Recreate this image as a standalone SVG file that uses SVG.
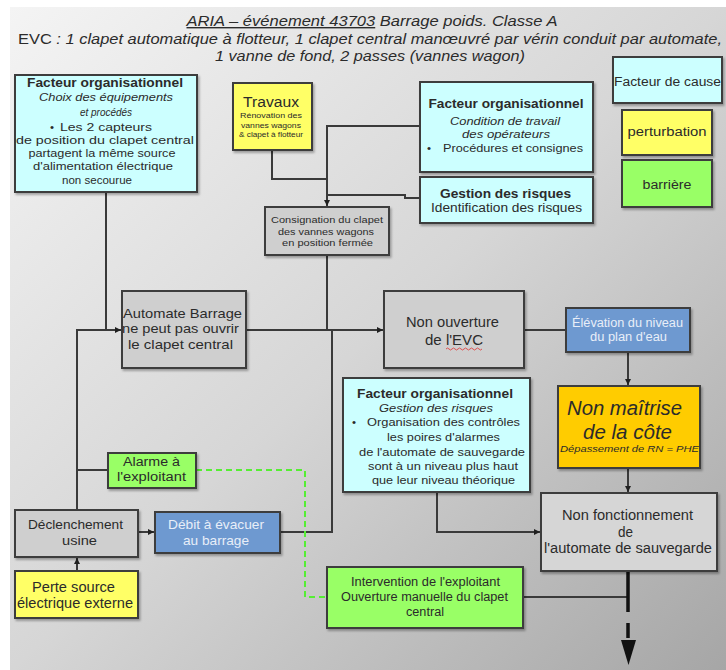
<svg xmlns="http://www.w3.org/2000/svg" width="726" height="670" viewBox="0 0 726 670">
  <defs>
    <linearGradient id="bg" x1="0" y1="0" x2="1" y2="1">
      <stop offset="0" stop-color="#f4f4f4"/>
      <stop offset="0.5" stop-color="#d6d6d6"/>
      <stop offset="1" stop-color="#a6a6a6"/>
    </linearGradient>
    <filter id="sh" x="-10%" y="-10%" width="120%" height="130%">
      <feDropShadow dx="1.5" dy="2" stdDeviation="1" flood-color="#000" flood-opacity="0.3"/>
    </filter>
    <marker id="arr" viewBox="0 0 6 6" refX="6" refY="3" markerWidth="6" markerHeight="6" orient="auto" markerUnits="userSpaceOnUse">
      <path d="M0,0 L6,3 L0,6 Z" fill="#202020"/>
    </marker>
  </defs>
  <style>
    text { font-family: "Liberation Sans", Arial, sans-serif; fill: #2b2b2b; }
    .box { stroke: #3c3c3c; stroke-width: 2; filter: url(#sh); }
    .cause { fill: #ccffff; }
    .pert { fill: #ffff66; }
    .barr { fill: #99ff66; }
    .ev { fill: #cfcfcf; }
    .blue { fill: #6e99d0; }
    .gold { fill: #ffcc00; }
    .c { text-anchor: middle; }
    .b { font-weight: bold; }
    .i { font-style: italic; }
    .lt { fill: #e8eef8; }
    .ln { fill: none; stroke: #3a3a3a; stroke-width: 2; }
    .dash { fill: none; stroke: #55ee33; stroke-width: 2; stroke-dasharray: 6 4; }
  </style>

  <!-- backdrop -->
  <rect x="0" y="0" width="726" height="670" fill="#ffffff"/>
  <rect x="10" y="7" width="716" height="663" fill="url(#bg)"/>

  <!-- heading -->
  <g id="title" class="i">
    <text x="372" y="26" font-size="14" class="c" textLength="371" lengthAdjust="spacingAndGlyphs"><tspan text-decoration="underline">ARIA – événement 43703</tspan> Barrage poids. Classe A</text>
    <text x="370" y="44" font-size="14" class="c" textLength="704" lengthAdjust="spacingAndGlyphs"><tspan font-style="normal">EVC</tspan> : 1 clapet automatique à flotteur, 1 clapet central manœuvré par vérin conduit par automate,</text>
    <text x="370" y="61" font-size="14" class="c" textLength="310" lengthAdjust="spacingAndGlyphs">1 vanne de fond, 2 passes (vannes wagon)</text>
  </g>

  <!-- connectors -->
  <g id="connectors">
    <path class="ln" d="M106,192 V330"/>
    <path class="ln" d="M77,510 V330 H121" marker-end="url(#arr)"/>
    <path class="ln" d="M77,470 H108"/>
    <path class="ln" d="M246,330 H383" marker-end="url(#arr)"/>
    <path class="ln" d="M327,255 V330"/>
    <path class="ln" d="M280,532 H332 V330"/>
    <path class="ln" d="M272,150 V179 H327"/>
    <path class="ln" d="M420,126 H327 V206" marker-end="url(#arr)"/>
    <path class="ln" d="M420,198 H405 V195 H327"/>
    <path class="ln" d="M524,330 H566"/>
    <path class="ln" d="M628,352 V385" marker-end="url(#arr)"/>
    <path class="ln" d="M628,468 V492" marker-end="url(#arr)"/>
    <path class="ln" d="M437,492 V532 H540" marker-end="url(#arr)"/>
    <path class="ln" d="M138,532 H154" marker-end="url(#arr)"/>
    <path class="ln" d="M77,571 V558" marker-end="url(#arr)"/>
    <path class="ln" d="M523,597 H628"/>
    <path class="dash" d="M196,470 H305 V597 H327"/>
    <path d="M628,571 V612 M628,623 V638" fill="none" stroke="#111" stroke-width="3.5"/>
    <polygon points="621,640 636,640 628.5,665" fill="#111"/>
  </g>

  <!-- legend -->
  <g id="legend-cause">
    <rect class="box cause" x="613" y="57" width="109" height="46"/>
    <text x="667.5" y="86" font-size="12" class="c" textLength="107" lengthAdjust="spacingAndGlyphs">Facteur de cause</text>
  </g>
  <g id="legend-perturbation">
    <rect class="box pert" x="622" y="110" width="90" height="45"/>
    <text x="667" y="136" font-size="12" class="c" textLength="79" lengthAdjust="spacingAndGlyphs">perturbation</text>
  </g>
  <g id="legend-barriere">
    <rect class="box barr" x="622" y="160" width="90" height="47"/>
    <text x="667" y="189" font-size="12" class="c" textLength="49" lengthAdjust="spacingAndGlyphs">barrière</text>
  </g>

  <!-- nodes -->
  <g id="facteur-equipements">
    <rect class="box cause" x="15" y="75" width="182" height="117"/>
    <text x="105" y="86.5" font-size="12.5" class="c b" textLength="156" lengthAdjust="spacingAndGlyphs">Facteur organisationnel</text>
    <text x="106" y="101" font-size="11.5" class="c i" textLength="134" lengthAdjust="spacingAndGlyphs">Choix des équipements</text>
    <text x="106" y="116" font-size="11.5" class="c i" textLength="52" lengthAdjust="spacingAndGlyphs">et procédés</text>
    <text x="50" y="131" font-size="11.5">•</text>
    <text x="106" y="131" font-size="11.5" class="c" textLength="92" lengthAdjust="spacingAndGlyphs">Les 2 capteurs</text>
    <text x="105" y="143.5" font-size="11.5" class="c" textLength="178" lengthAdjust="spacingAndGlyphs">de position du clapet central</text>
    <text x="102" y="156.5" font-size="11.5" class="c" textLength="147" lengthAdjust="spacingAndGlyphs">partagent la même source</text>
    <text x="103" y="169.5" font-size="11.5" class="c" textLength="140" lengthAdjust="spacingAndGlyphs">d'alimentation électrique</text>
    <text x="97" y="184" font-size="11.5" class="c" textLength="70" lengthAdjust="spacingAndGlyphs">non secourue</text>
  </g>

  <g id="travaux">
    <rect class="box pert" x="233" y="83" width="79" height="67"/>
    <text x="271" y="107" font-size="14" class="c" textLength="56" lengthAdjust="spacingAndGlyphs">Travaux</text>
    <text x="271" y="118" font-size="7" class="c" textLength="62" lengthAdjust="spacingAndGlyphs">Rénovation des</text>
    <text x="271" y="127.5" font-size="7" class="c" textLength="60" lengthAdjust="spacingAndGlyphs">vannes wagons</text>
    <text x="271" y="137" font-size="7" class="c" textLength="64" lengthAdjust="spacingAndGlyphs">&amp; clapet à flotteur</text>
  </g>

  <g id="facteur-condition">
    <rect class="box cause" x="420" y="82" width="173" height="90"/>
    <text x="506" y="108" font-size="12.5" class="c b" textLength="155" lengthAdjust="spacingAndGlyphs">Facteur organisationnel</text>
    <text x="505" y="125" font-size="11.5" class="c i" textLength="110" lengthAdjust="spacingAndGlyphs">Condition de travail</text>
    <text x="506" y="138" font-size="11.5" class="c i" textLength="88" lengthAdjust="spacingAndGlyphs">des opérateurs</text>
    <text x="427" y="152" font-size="11.5">•</text>
    <text x="513" y="152" font-size="11.5" class="c" textLength="140" lengthAdjust="spacingAndGlyphs">Procédures et consignes</text>
  </g>

  <g id="gestion-risques">
    <rect class="box cause" x="420" y="177" width="173" height="46"/>
    <text x="505.5" y="197.5" font-size="12.5" class="c b" textLength="131" lengthAdjust="spacingAndGlyphs">Gestion des risques</text>
    <text x="506.5" y="211.5" font-size="12.5" class="c" textLength="151" lengthAdjust="spacingAndGlyphs">Identification des risques</text>
  </g>

  <g id="consignation">
    <rect class="box ev" x="265" y="207" width="124" height="48"/>
    <text x="327" y="223" font-size="9" class="c" textLength="112" lengthAdjust="spacingAndGlyphs">Consignation du clapet</text>
    <text x="326" y="235" font-size="9" class="c" textLength="96" lengthAdjust="spacingAndGlyphs">des vannes wagons</text>
    <text x="327.5" y="246" font-size="9" class="c" textLength="91" lengthAdjust="spacingAndGlyphs">en position fermée</text>
  </g>

  <g id="automate-barrage">
    <rect class="box ev" x="122" y="291" width="124" height="77"/>
    <text x="182.5" y="318" font-size="13.5" class="c" textLength="119" lengthAdjust="spacingAndGlyphs">Automate Barrage</text>
    <text x="180.5" y="333" font-size="13.5" class="c" textLength="117" lengthAdjust="spacingAndGlyphs">ne peut pas ouvrir</text>
    <text x="180.5" y="349" font-size="13.5" class="c" textLength="105" lengthAdjust="spacingAndGlyphs">le clapet central</text>
  </g>

  <g id="non-ouverture">
    <rect class="box ev" x="384" y="291" width="140" height="77"/>
    <text x="452.5" y="327" font-size="14" class="c" textLength="93" lengthAdjust="spacingAndGlyphs">Non ouverture</text>
    <text x="454" y="345" font-size="14" class="c" textLength="58" lengthAdjust="spacingAndGlyphs">de l'EVC</text>
    <path d="M446,349 q1.5,-2 3,0 t3,0 t3,0 t3,0 t3,0 t3,0 t3,0 t3,0 t3,0 t3,0 t3,0 t3,0" fill="none" stroke="#e03030" stroke-width="0.8"/>
  </g>

  <g id="elevation">
    <rect class="box blue" x="566" y="308" width="124" height="44"/>
    <text x="627.5" y="327" font-size="12" class="c lt" textLength="111" lengthAdjust="spacingAndGlyphs">Élévation du niveau</text>
    <text x="628.5" y="341" font-size="12" class="c lt" textLength="77" lengthAdjust="spacingAndGlyphs">du plan d'eau</text>
  </g>

  <g id="non-maitrise">
    <rect class="box gold" x="558" y="386" width="142" height="82"/>
    <text x="624.5" y="415" font-size="20" class="c i" fill="#111" textLength="115" lengthAdjust="spacingAndGlyphs">Non maîtrise</text>
    <text x="627.5" y="439" font-size="20" class="c i" textLength="89" lengthAdjust="spacingAndGlyphs">de la côte</text>
    <text x="629.5" y="452" font-size="8.5" class="c i" textLength="139" lengthAdjust="spacingAndGlyphs">Dépassement de RN = PHE</text>
  </g>

  <g id="facteur-gestion">
    <rect class="box cause" x="343" y="378" width="187" height="114"/>
    <text x="435" y="397.5" font-size="12.5" class="c b" textLength="156" lengthAdjust="spacingAndGlyphs">Facteur organisationnel</text>
    <text x="436" y="412" font-size="11.5" class="c i" textLength="114" lengthAdjust="spacingAndGlyphs">Gestion des risques</text>
    <text x="352" y="426" font-size="11.5">•</text>
    <text x="443.5" y="426" font-size="11.5" class="c" textLength="153" lengthAdjust="spacingAndGlyphs">Organisation des contrôles</text>
    <text x="443.5" y="441" font-size="11.5" class="c" textLength="113" lengthAdjust="spacingAndGlyphs">les poires d'alarmes</text>
    <text x="442" y="456" font-size="11.5" class="c" textLength="166" lengthAdjust="spacingAndGlyphs">de l'automate de sauvegarde</text>
    <text x="443" y="470" font-size="11.5" class="c" textLength="150" lengthAdjust="spacingAndGlyphs">sont à un niveau plus haut</text>
    <text x="443.5" y="484" font-size="11.5" class="c" textLength="143" lengthAdjust="spacingAndGlyphs">que leur niveau théorique</text>
  </g>

  <g id="alarme">
    <rect class="box barr" x="108" y="453" width="88" height="35"/>
    <text x="151.5" y="466" font-size="12.5" class="c" textLength="57" lengthAdjust="spacingAndGlyphs">Alarme à</text>
    <text x="151.5" y="481" font-size="12.5" class="c" textLength="69" lengthAdjust="spacingAndGlyphs">l'exploitant</text>
  </g>

  <g id="declenchement">
    <rect class="box ev" x="15" y="510" width="123" height="47"/>
    <text x="75.5" y="529" font-size="13" class="c" textLength="95" lengthAdjust="spacingAndGlyphs">Déclenchement</text>
    <text x="79.5" y="544.5" font-size="13" class="c" textLength="35" lengthAdjust="spacingAndGlyphs">usine</text>
  </g>

  <g id="debit">
    <rect class="box blue" x="155" y="512" width="125" height="41"/>
    <text x="216" y="529" font-size="13" class="c lt" textLength="96" lengthAdjust="spacingAndGlyphs">Débit à évacuer</text>
    <text x="216" y="544.5" font-size="13" class="c lt" textLength="66" lengthAdjust="spacingAndGlyphs">au barrage</text>
  </g>

  <g id="perte-source">
    <rect class="box pert" x="15" y="571" width="123" height="47"/>
    <text x="73.5" y="591.5" font-size="14" class="c" textLength="83" lengthAdjust="spacingAndGlyphs">Perte source</text>
    <text x="75" y="608" font-size="14" class="c" textLength="116" lengthAdjust="spacingAndGlyphs">électrique externe</text>
  </g>

  <g id="non-fonctionnement">
    <rect class="box" fill="#d6d6d6" x="541" y="493" width="176" height="78"/>
    <text x="627.5" y="520" font-size="14" class="c" textLength="131" lengthAdjust="spacingAndGlyphs">Non fonctionnement</text>
    <text x="625.5" y="537" font-size="14" class="c" textLength="15" lengthAdjust="spacingAndGlyphs">de</text>
    <text x="628" y="553" font-size="14" class="c" textLength="168" lengthAdjust="spacingAndGlyphs">l'automate de sauvegarde</text>
  </g>

  <g id="intervention">
    <rect class="box barr" x="327" y="567" width="196" height="61"/>
    <text x="425.5" y="586" font-size="12" class="c" textLength="149" lengthAdjust="spacingAndGlyphs">Intervention de l'exploitant</text>
    <text x="424.5" y="601" font-size="12" class="c" textLength="167" lengthAdjust="spacingAndGlyphs">Ouverture manuelle du clapet</text>
    <text x="425" y="616" font-size="12" class="c" textLength="38" lengthAdjust="spacingAndGlyphs">central</text>
  </g>
</svg>
